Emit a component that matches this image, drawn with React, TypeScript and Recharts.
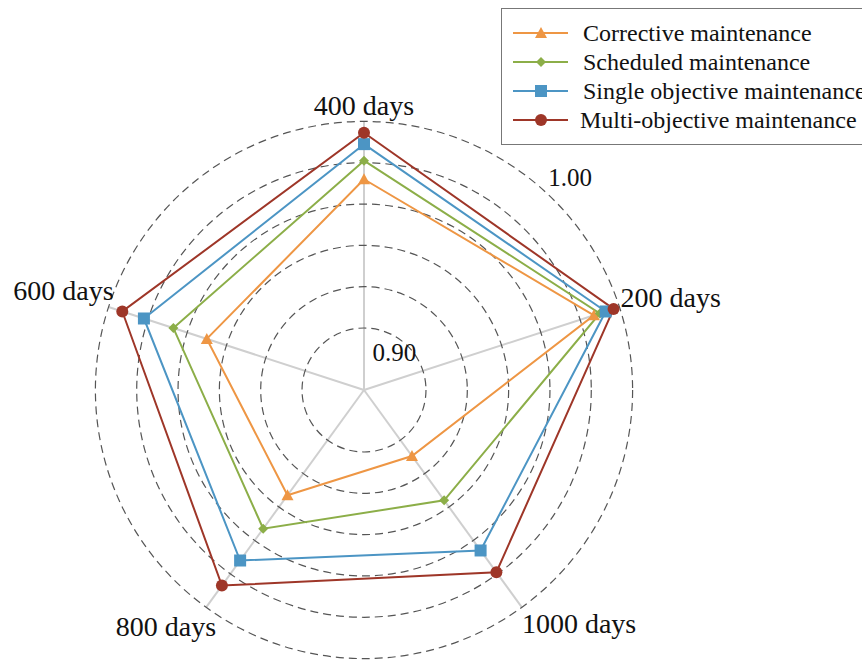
import { RadarChart, Radar, PolarGrid, PolarAngleAxis, PolarRadiusAxis, Legend } from 'recharts';

const periods = ['400 days', '200 days', '1000 days', '800 days', '600 days'];
const corrective = [0.972, 0.987, 0.9095, 0.933, 0.950];
const scheduled = [0.981, 0.990, 0.936, 0.953, 0.967];
const singleObjective = [0.989, 0.993, 0.966, 0.972, 0.982];
const multiObjective = [0.9945, 0.997, 0.979, 0.987, 0.993];
const radiusTicks = [0.9, 0.92, 0.94, 0.96, 0.98, 1.0];
const labelledTicks = [0.9, 1.0];

const data = periods.map((period, i) => ({
    period,
    corrective: corrective[i],
    scheduled: scheduled[i],
    single: singleObjective[i],
    multi: multiObjective[i],
}));

const FONT = '"Liberation Serif", "Times New Roman", serif';

const series = [
    { key: 'corrective', name: 'Corrective maintenance', color: '#EE9644', shape: 'triangle' },
    { key: 'scheduled', name: 'Scheduled maintenance', color: '#8CAE48', shape: 'diamond' },
    { key: 'single', name: 'Single objective maintenance', color: '#4C95C4', shape: 'square' },
    { key: 'multi', name: 'Multi-objective maintenance', color: '#9E3628', shape: 'circle' },
];

const Marker = ({ x, y, shape, color }: { x: number; y: number; shape: string; color: string }) => {
    if (shape === 'triangle') {
        return <polygon points={`${x},${y - 6} ${x + 6},${y + 5} ${x - 6},${y + 5}`} fill={color} />;
    }
    if (shape === 'diamond') {
        return <polygon points={`${x},${y - 5} ${x + 5},${y} ${x},${y + 5} ${x - 5},${y}`} fill={color} />;
    }
    if (shape === 'square') {
        return <rect x={x - 6} y={y - 6} width={12} height={12} fill={color} />;
    }
    return <circle cx={x} cy={y} r={6} fill={color} />;
};

const makeDot = (shape: string, color: string) => (props: any) => (
    <Marker key={`${shape}-${props.index}`} x={props.cx} y={props.cy} shape={shape} color={color} />
);

// axis names sit just outside the spoke ends, like the original figure
const AngleTick = (props: any) => {
    const { payload, cx, cy, radius } = props;
    const a = (payload.coordinate * Math.PI) / 180;
    const ex = cx + radius * Math.cos(a);
    const ey = cy - radius * Math.sin(a);
    const c = Math.cos(a);
    const s = Math.sin(a);
    let anchor: 'start' | 'middle' | 'end' = 'middle';
    let x = ex;
    let y = ey;
    if (Math.abs(c) < 0.1) {
        y = ey - 6;
    } else if (c > 0 && s > 0) {
        anchor = 'start';
        x = ex + 1;
        y = ey;
    } else if (c > 0) {
        anchor = 'start';
        y = ey + 26;
    } else if (s < 0) {
        anchor = 'end';
        x = ex + 10;
        y = ey + 29;
    } else {
        anchor = 'end';
        x = ex + 5;
        y = ey - 7;
    }
    return (
        <text x={x} y={y} textAnchor={anchor} fill="#111" fontSize={28} fontFamily={FONT}>
            {payload.value}
        </text>
    );
};

const RadiusTick = (props: any) => {
    const { x, y, payload } = props;
    if (!labelledTicks.some(t => Math.abs(t - payload.value) < 1e-6)) return <g />;
    const first = payload.value < 0.95;
    return (
        <text
            x={first ? x - 12 : x + 23}
            y={first ? y + 16 : y - 8}
            textAnchor="middle"
            fill="#111"
            fontSize={25}
            fontFamily={FONT}
        >
            {payload.value.toFixed(2)}
        </text>
    );
};

const LegendBox = () => (
    <div
        style={{
            border: '1.5px solid #777',
            background: '#fff',
            width: 380,
            height: 137,
            boxSizing: 'border-box',
        }}
    >
        <svg width={380} height={134}>
            {series.map((s, i) => {
                const y = 24 + i * 29;
                return (
                    <g key={s.key}>
                        <line x1={11} x2={66} y1={y} y2={y} stroke={s.color} strokeWidth={2} />
                        <Marker x={39} y={y} shape={s.shape} color={s.color} />
                        <text x={i === 3 ? 78 : 81} y={y + 8} fontSize={24} fontFamily={FONT} fill="#111">
                            {s.name}
                        </text>
                    </g>
                );
            })}
        </svg>
    </div>
);

export default function App() {
    return (
        <div style={{ position: 'absolute', left: 0, top: 0, width: 862, height: 661, overflow: 'hidden', background: '#fff' }}>
            <RadarChart
                width={862}
                height={661}
                data={data}
                cx={364}
                cy={390}
                outerRadius={268.6}
                margin={{ top: 0, right: 0, bottom: 0, left: 0 }}
            >
                <PolarGrid gridType="circle" polarRadius={[0]} stroke="#cfcfcf" strokeWidth={2} />
                <PolarGrid gridType="circle" radialLines={false} stroke="#555" strokeWidth={1.2} strokeDasharray="8 5" />
                <PolarAngleAxis dataKey="period" axisLine={false} tickLine={false} tick={<AngleTick />} />
                <PolarRadiusAxis
                    angle={47}
                    domain={[0.87, 1.0]}
                    ticks={radiusTicks as any}
                    axisLine={false}
                    tickLine={false}
                    tick={<RadiusTick />}
                />
                {series.map(s => (
                    <Radar
                        key={s.key}
                        name={s.name}
                        dataKey={s.key}
                        stroke={s.color}
                        strokeWidth={2}
                        fill="none"
                        fillOpacity={0}
                        dot={makeDot(s.shape, s.color)}
                        isAnimationActive={false}
                    />
                ))}
                <Legend
                    content={<LegendBox />}
                    wrapperStyle={{ position: 'absolute', left: 501, top: 8, width: 380, height: 137 }}
                />
            </RadarChart>
        </div>
    );
}
